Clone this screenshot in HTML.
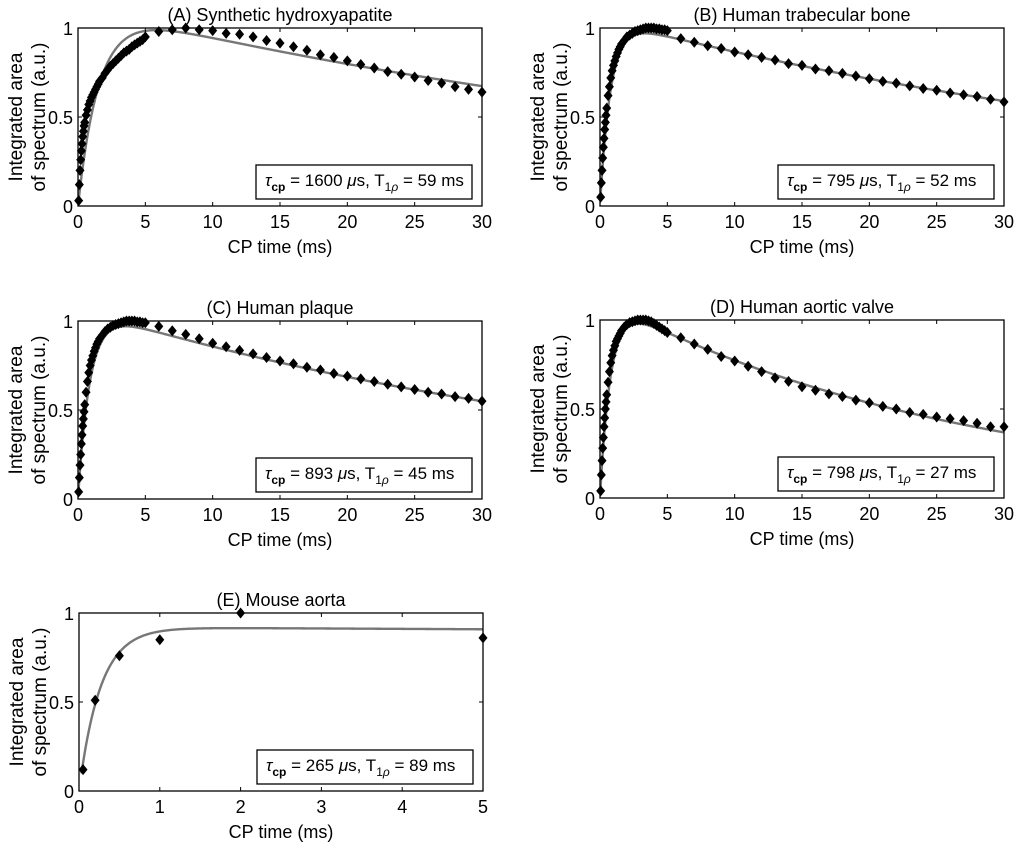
<!DOCTYPE html>
<html><head><meta charset="utf-8"><style>
html,body{margin:0;padding:0;background:#fff;}
svg{display:block;font-family:"Liberation Sans",sans-serif;}
</style></head><body>
<svg id="fig" width="1022" height="847" viewBox="0 0 1022 847"></svg>
<script>
const tDense = [0.05,0.1,0.15,0.2,0.25,0.3,0.35,0.4,0.45,0.5,0.6,0.7,0.8,0.9,1.0,1.1,1.2,1.3,1.4,1.5,1.6,1.8,2.0,2.2,2.4,2.6,2.8,3.0,3.2,3.4,3.6,3.8,4.0,4.2,4.4,4.6,4.8,5.0];
const tSparse = [6,7,8,9,10,11,12,13,14,15,16,17,18,19,20,21,22,23,24,25,26,27,28,29,30];
const aDense = [0.03,0.12,0.2,0.26,0.31,0.35,0.39,0.42,0.45,0.47,0.51,0.54,0.57,0.59,0.61,0.625,0.64,0.655,0.67,0.685,0.7,0.72,0.745,0.765,0.785,0.8,0.815,0.83,0.845,0.86,0.87,0.88,0.895,0.905,0.915,0.925,0.935,0.95];
const aSparse = [0.98,0.99,1.0,0.99,0.985,0.97,0.965,0.95,0.93,0.915,0.895,0.875,0.85,0.835,0.815,0.795,0.775,0.755,0.74,0.725,0.705,0.69,0.67,0.655,0.64];
const bDense = [0.05,0.13,0.2,0.27,0.33,0.38,0.43,0.47,0.51,0.55,0.62,0.67,0.72,0.76,0.79,0.815,0.84,0.86,0.88,0.895,0.91,0.93,0.95,0.96,0.97,0.98,0.985,0.99,0.995,1.0,1.0,1.0,1.0,0.995,0.995,0.99,0.99,0.985];
const bSparse = [0.94,0.92,0.9,0.885,0.865,0.85,0.835,0.82,0.8,0.79,0.77,0.76,0.745,0.73,0.715,0.7,0.69,0.675,0.66,0.65,0.635,0.625,0.615,0.6,0.585];
const cDense = [0.04,0.12,0.19,0.25,0.31,0.36,0.41,0.45,0.49,0.53,0.6,0.66,0.71,0.75,0.78,0.805,0.83,0.85,0.87,0.885,0.9,0.92,0.94,0.955,0.965,0.975,0.98,0.985,0.99,0.995,1.0,1.0,1.0,1.0,0.995,0.995,0.99,0.99];
const cSparse = [0.97,0.945,0.925,0.9,0.875,0.855,0.835,0.815,0.795,0.775,0.76,0.74,0.725,0.705,0.69,0.675,0.66,0.645,0.63,0.615,0.6,0.59,0.575,0.565,0.55];
const dDense = [0.04,0.13,0.21,0.28,0.34,0.4,0.45,0.5,0.54,0.58,0.65,0.71,0.76,0.8,0.83,0.855,0.88,0.895,0.91,0.925,0.94,0.96,0.975,0.985,0.99,0.995,1.0,1.0,1.0,1.0,0.995,0.99,0.98,0.97,0.96,0.95,0.94,0.93];
const dSparse = [0.9,0.865,0.835,0.795,0.77,0.74,0.71,0.675,0.655,0.625,0.605,0.585,0.57,0.55,0.535,0.515,0.5,0.48,0.47,0.455,0.445,0.435,0.42,0.4,0.4];
const eX = [0.05,0.2,0.5,1,2,5];
const eY = [0.12,0.51,0.76,0.85,1.0,0.86];
const xTicks30 = [0,5,10,15,20,25,30];
const xTicks5 = [0,1,2,3,4,5];
const yTicks = [0,0.5,1];
const yTickLabels = ["0","0.5","1"];

const NS="http://www.w3.org/2000/svg";
const svg=document.getElementById('fig');
function mk(tag,attrs,parent){const e=document.createElementNS(NS,tag);for(const k in attrs)e.setAttribute(k,attrs[k]);(parent||svg).appendChild(e);return e;}

const panels=[
 {id:'a',title:'(A) Synthetic hydroxyapatite',x0:78,y0:28,xmax:30,xt:xTicks30,tx:tDense.concat(tSparse),ty:aDense.concat(aSparse),tau:1.6,T1:59,amp:1.12,tauTxt:'1600',T1Txt:'59'},
 {id:'b',title:'(B) Human trabecular bone',x0:600,y0:28,xmax:30,xt:xTicks30,tx:tDense.concat(tSparse),ty:bDense.concat(bSparse),tau:0.795,T1:52,amp:1.05,tauTxt:'795',T1Txt:'52'},
 {id:'c',title:'(C) Human plaque',x0:78,y0:321,xmax:30,xt:xTicks30,tx:tDense.concat(tSparse),ty:cDense.concat(cSparse),tau:0.893,T1:45,amp:1.07,tauTxt:'893',T1Txt:'45'},
 {id:'d',title:'(D) Human aortic valve',x0:600,y0:320,xmax:30,xt:xTicks30,tx:tDense.concat(tSparse),ty:dDense.concat(dSparse),tau:0.798,T1:27,amp:1.12,tauTxt:'798',T1Txt:'27'},
 {id:'e',title:'(E) Mouse aorta',x0:79,y0:613,xmax:5,xt:xTicks5,tx:eX,ty:eY,tau:0.265,T1:400,amp:0.92,tauTxt:'265',T1Txt:'89'}
];
const W=404,H=178;
panels.forEach(p=>{
 const g=mk('g',{});
 
 
 const sx=v=>p.x0+v/p.xmax*W, sy=v=>p.y0+H-v*H;
 const cp=mk('clipPath',{id:'clip'+p.id},g);mk('rect',{x:p.x0,y:p.y0,width:W,height:H},cp);
 let d='';for(let i=0;i<=400;i++){const t=0.03+(p.xmax-0.03)*i/400;const v=p.amp*(1-Math.exp(-t/p.tau))*Math.exp(-t/p.T1);d+=(i?'L':'M')+sx(t).toFixed(2)+','+sy(v).toFixed(2);}
 const fit=mk('path',{d:d,fill:'none',stroke:'#777',"stroke-width":2.4,"clip-path":'url(#clip'+p.id+')'},g);
 
 
 p.tx.forEach((t,i)=>{const cx=sx(t),cy=sy(p.ty[i]);
  const m=mk('path',{d:`M${cx},${cy-5.5}L${cx+4.5},${cy}L${cx},${cy+5.5}L${cx-4.5},${cy}Z`,fill:'#000'},g);
  
  
 });
 const box=mk('rect',{x:p.x0,y:p.y0,width:W,height:H,fill:'none',stroke:'#000',"stroke-width":1.3},g);
 
 
 p.xt.forEach(v=>{const x=sx(v);
  mk('line',{x1:x,x2:x,y1:p.y0+H,y2:p.y0+H-4,stroke:'#000'},g);
  mk('line',{x1:x,x2:x,y1:p.y0,y2:p.y0+4,stroke:'#000'},g);
  const tl=mk('text',{x:x,y:p.y0+H+22,"text-anchor":'middle',"font-size":18},g);tl.textContent=v;
  
  
 });
 yTicks.forEach((v,i)=>{const y=sy(v);
  mk('line',{x1:p.x0,x2:p.x0+4,y1:y,y2:y,stroke:'#000'},g);
  mk('line',{x1:p.x0+W,x2:p.x0+W-4,y1:y,y2:y,stroke:'#000'},g);
  const tl=mk('text',{x:p.x0-5,y:y+7,"text-anchor":'end',"font-size":18},g);tl.textContent=yTickLabels[i];
  
  
 });
 const ti=mk('text',{x:p.x0+W/2,y:p.y0-7,"text-anchor":'middle',"font-size":18},g);ti.textContent=p.title;
 
 
 const xl=mk('text',{x:p.x0+W/2,y:p.y0+H+47,"text-anchor":'middle',"font-size":18},g);xl.textContent='CP time (ms)';
 
 
 const cy=p.y0+H/2;
 const yl=mk('text',{transform:`translate(${p.x0-56},${cy}) rotate(-90)`,"text-anchor":'middle',"font-size":19},g);
 
 
 const s1=mk('tspan',{x:0,dy:0},yl);s1.textContent='Integrated area';
 const s2=mk('tspan',{x:0,dy:23},yl);s2.textContent='of spectrum (a.u.)';
 const lx=p.x0+178,ly=p.y0+H-41;
 const lb=mk('rect',{x:lx,y:ly,width:216,height:34,fill:'#fff',stroke:'#000',"stroke-width":1.3},g);
 
 
 const lt=mk('text',{x:lx+9,y:ly+21,"font-size":17},g);
 
 
 lt.innerHTML=`<tspan font-style="italic">τ</tspan><tspan font-size="12" dy="5" font-weight="bold">cp</tspan><tspan dy="-5"> = ${p.tauTxt} </tspan><tspan font-style="italic">μ</tspan><tspan>s, T</tspan><tspan font-size="12" dy="5">1</tspan><tspan font-size="12" font-style="italic">ρ</tspan><tspan dy="-5"> = ${p.T1Txt} ms</tspan>`;
});
</script>
</body></html>
